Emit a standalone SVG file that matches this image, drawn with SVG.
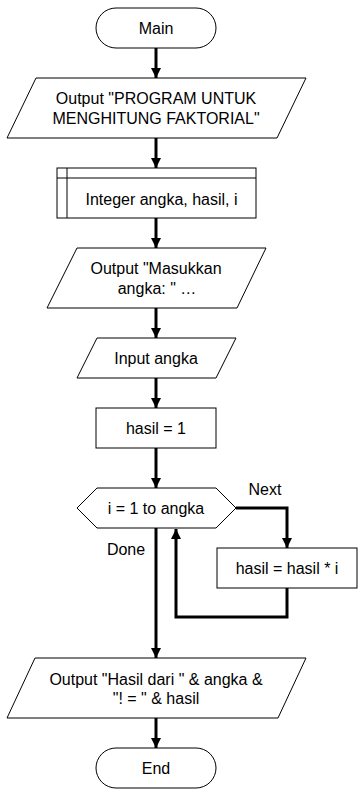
<svg xmlns="http://www.w3.org/2000/svg" width="362" height="797" viewBox="0 0 362 797">
<style>
.s{fill:#fff;stroke:#000;stroke-width:1}
.t{font-family:"Liberation Sans",Arial,sans-serif;font-size:16px;fill:#000;text-anchor:middle;dominant-baseline:central}
.c{fill:none;stroke:#000;stroke-width:3}
</style>
<defs>
<marker id="ah" viewBox="0 0 10 10" refX="10" refY="5" markerWidth="10" markerHeight="10" markerUnits="userSpaceOnUse" orient="auto">
<path d="M0,0 L10,5 L0,10 Z" fill="#000"/>
</marker>
</defs>
<rect width="362" height="797" fill="#fff"/>
<g id="connectors">
<path class="c" d="M156,48 V78" marker-end="url(#ah)"/>
<path class="c" d="M156,138 V168" marker-end="url(#ah)"/>
<path class="c" d="M156,218 V248" marker-end="url(#ah)"/>
<path class="c" d="M156,308 V338" marker-end="url(#ah)"/>
<path class="c" d="M156,378 V408" marker-end="url(#ah)"/>
<path class="c" d="M156,448 V488" marker-end="url(#ah)"/>
<path class="c" d="M236,508 H287 V548" marker-end="url(#ah)"/>
<path class="c" d="M287,588 V617 H176 V529" marker-end="url(#ah)"/>
<path class="c" d="M156,528 V658" marker-end="url(#ah)"/>
<path class="c" d="M156,718 V748" marker-end="url(#ah)"/>
<text class="t" x="265" y="489">Next</text>
<text class="t" x="126" y="549">Done</text>
</g>
<g id="main">
<rect class="s" x="96" y="8" width="120" height="40" rx="20" ry="20"/>
<text class="t" x="156" y="28">Main</text>
</g>
<g id="out1">
<polygon class="s" points="36,78 306,78 277,138 7,138"/>
<text class="t" x="156" y="98">Output "PROGRAM UNTUK</text>
<text class="t" x="156" y="118">MENGHITUNG FAKTORIAL"</text>
</g>
<g id="decl">
<rect class="s" x="57" y="168" width="199" height="50"/>
<line x1="67" y1="168" x2="67" y2="218" stroke="#000" stroke-width="1"/>
<line x1="57" y1="178" x2="256" y2="178" stroke="#000" stroke-width="1"/>
<text class="t" x="161.5" y="199">Integer angka, hasil, i</text>
</g>
<g id="out2">
<polygon class="s" points="77,248 266,248 237,308 47,308"/>
<text class="t" x="156" y="268">Output "Masukkan</text>
<text class="t" x="157" y="288">angka: " …</text>
</g>
<g id="input">
<polygon class="s" points="97,338 236,338 216,378 77,378"/>
<text class="t" x="156" y="358">Input angka</text>
</g>
<g id="assign1">
<rect class="s" x="96" y="408" width="120" height="40"/>
<text class="t" x="156" y="428">hasil = 1</text>
</g>
<g id="loop">
<polygon class="s" points="77,508 97,488 216,488 236,508 216,528 97,528"/>
<text class="t" x="156" y="508">i = 1 to angka</text>
</g>
<g id="assign2">
<rect class="s" x="217" y="548" width="140" height="40"/>
<text class="t" x="287" y="568">hasil = hasil * i</text>
</g>
<g id="out3">
<polygon class="s" points="35,658 306,658 278,718 7,718"/>
<text class="t" x="156" y="679">Output "Hasil dari " &amp; angka &amp;</text>
<text class="t" x="156" y="698">"! = " &amp; hasil</text>
</g>
<g id="end">
<rect class="s" x="96" y="748" width="120" height="40" rx="20" ry="20"/>
<text class="t" x="156" y="768">End</text>
</g>
</svg>
